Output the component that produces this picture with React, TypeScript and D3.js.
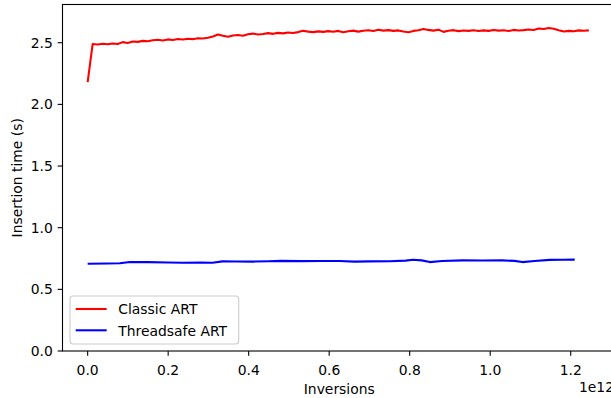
import React from "react";
import * as d3 from "d3";

const xTicks = [0.0, 0.2, 0.4, 0.6, 0.8, 1.0, 1.2];
const yTicks = [0.0, 0.5, 1.0, 1.5, 2.0, 2.5];

// Classic ART: sampled every RED_STEP (x in units of 1e12 inversions)
const RED_STEP = 0.01245;
const classicY = [
  2.18, 2.49, 2.486, 2.492, 2.487, 2.494, 2.489, 2.505, 2.498, 2.51,
  2.507, 2.515, 2.512, 2.52, 2.524, 2.518, 2.527, 2.522, 2.53, 2.526,
  2.532, 2.529, 2.536, 2.534, 2.541, 2.55, 2.566, 2.556, 2.548, 2.558,
  2.562, 2.556, 2.568, 2.574, 2.566, 2.571, 2.578, 2.572, 2.58, 2.576,
  2.583, 2.579, 2.586, 2.597, 2.59, 2.586, 2.592, 2.588, 2.594, 2.589,
  2.596, 2.585, 2.593, 2.598, 2.59, 2.597, 2.601, 2.595, 2.606, 2.598,
  2.602, 2.596, 2.6, 2.591, 2.585, 2.596, 2.601, 2.612, 2.604, 2.598,
  2.606, 2.588, 2.597, 2.602, 2.594, 2.599, 2.596, 2.601, 2.595, 2.6,
  2.596, 2.603, 2.598, 2.601, 2.595, 2.604, 2.599, 2.602, 2.607, 2.603,
  2.616, 2.611, 2.62, 2.614, 2.602, 2.591, 2.596, 2.593, 2.6, 2.597, 2.6,
];

const threadsafeX = [
  0, 0.05, 0.08, 0.105, 0.15, 0.2, 0.236, 0.28, 0.31, 0.335, 0.37, 0.41,
  0.45, 0.48, 0.53, 0.58, 0.626, 0.663, 0.7, 0.75, 0.79, 0.808, 0.83, 0.85,
  0.88, 0.932, 0.98, 1.03, 1.06, 1.08, 1.11, 1.148, 1.18, 1.21,
];
const threadsafeY = [
  0.707, 0.709, 0.711, 0.722, 0.721, 0.718, 0.716, 0.718, 0.716, 0.727,
  0.726, 0.725, 0.728, 0.731, 0.729, 0.73, 0.73, 0.725, 0.727, 0.728,
  0.733, 0.74, 0.735, 0.721, 0.73, 0.735, 0.734, 0.735, 0.731, 0.721,
  0.73, 0.739, 0.74, 0.741,
];

const W = 611;
const H = 398;
const left = 62.5;
const right = 616;
const top = 4.5;
const bottom = 351;
const FONT = "'DejaVu Sans', sans-serif";
const FS = 13.9;

export default function App() {
  const x = d3.scaleLinear().domain([-0.0625, 1.3125]).range([left, right]);
  const y = d3.scaleLinear().domain([0, 2.81]).range([bottom, top]);

  const line = d3
    .line<[number, number]>()
    .x((d) => x(d[0]))
    .y((d) => y(d[1]));

  const redPts: [number, number][] = classicY.map((v, i) => [i * RED_STEP, v]);
  const bluePts: [number, number][] = threadsafeX.map((v, i) => [v, threadsafeY[i]]);

  const tickLen = 4.86;

  return (
    <svg
      width={W}
      height={H}
      style={{ position: "absolute", left: 0, top: 0, background: "#fff" }}
      fontFamily={FONT}
    >
      <rect x={0} y={0} width={W} height={H} fill="#fff" />
      <defs>
        <clipPath id="plotclip">
          <rect x={left} y={top} width={right - left} height={bottom - top} />
        </clipPath>
      </defs>
      <g clipPath="url(#plotclip)">
        <path d={line(redPts) || ""} fill="none" stroke="#ff0000" strokeWidth={2.08} strokeLinejoin="round" />
        <path d={line(bluePts) || ""} fill="none" stroke="#0000ff" strokeWidth={2.08} strokeLinejoin="round" />
      </g>
      {/* spines */}
      <rect x={left} y={top} width={right - left} height={bottom - top} fill="none" stroke="#000" strokeWidth={1.1} />
      {/* x ticks */}
      {xTicks.map((t) => (
        <g key={"x" + t}>
          <line x1={x(t)} x2={x(t)} y1={bottom} y2={bottom + tickLen} stroke="#000" strokeWidth={1.1} />
          <text x={x(t)} y={374.5} fontSize={FS} textAnchor="middle" fill="#000">
            {t.toFixed(1)}
          </text>
        </g>
      ))}
      {/* y ticks */}
      {yTicks.map((t) => (
        <g key={"y" + t}>
          <line x1={left - tickLen} x2={left} y1={y(t)} y2={y(t)} stroke="#000" strokeWidth={1.1} />
          <text x={left - 2 * tickLen} y={y(t) + 5} fontSize={FS} textAnchor="end" fill="#000">
            {t.toFixed(1)}
          </text>
        </g>
      ))}
      <text x={(left + right) / 2} y={393.5} fontSize={FS} textAnchor="middle" fill="#000">
        Inversions
      </text>
      <text x={right - 2} y={391.5} fontSize={FS} textAnchor="end" fill="#000">
        1e12
      </text>
      <text
        transform={`translate(22, ${(top + bottom) / 2}) rotate(-90)`}
        fontSize={FS}
        textAnchor="middle"
        fill="#000"
      >
        Insertion time (s)
      </text>
      {/* legend */}
      <g>
        <rect x={70} y={296} width={168.7} height={48} rx={3} ry={3} fill="#fff" fillOpacity={0.8} stroke="#cccccc" strokeWidth={1.1} />
        <line x1={75.7} x2={106.7} y1={309} y2={309} stroke="#ff0000" strokeWidth={2.08} />
        <text x={118.3} y={314} fontSize={FS} fill="#000">Classic ART</text>
        <line x1={75.7} x2={106.7} y1={330.3} y2={330.3} stroke="#0000ff" strokeWidth={2.08} />
        <text x={118.3} y={335.5} fontSize={FS} fill="#000">Threadsafe ART</text>
      </g>
    </svg>
  );
}
